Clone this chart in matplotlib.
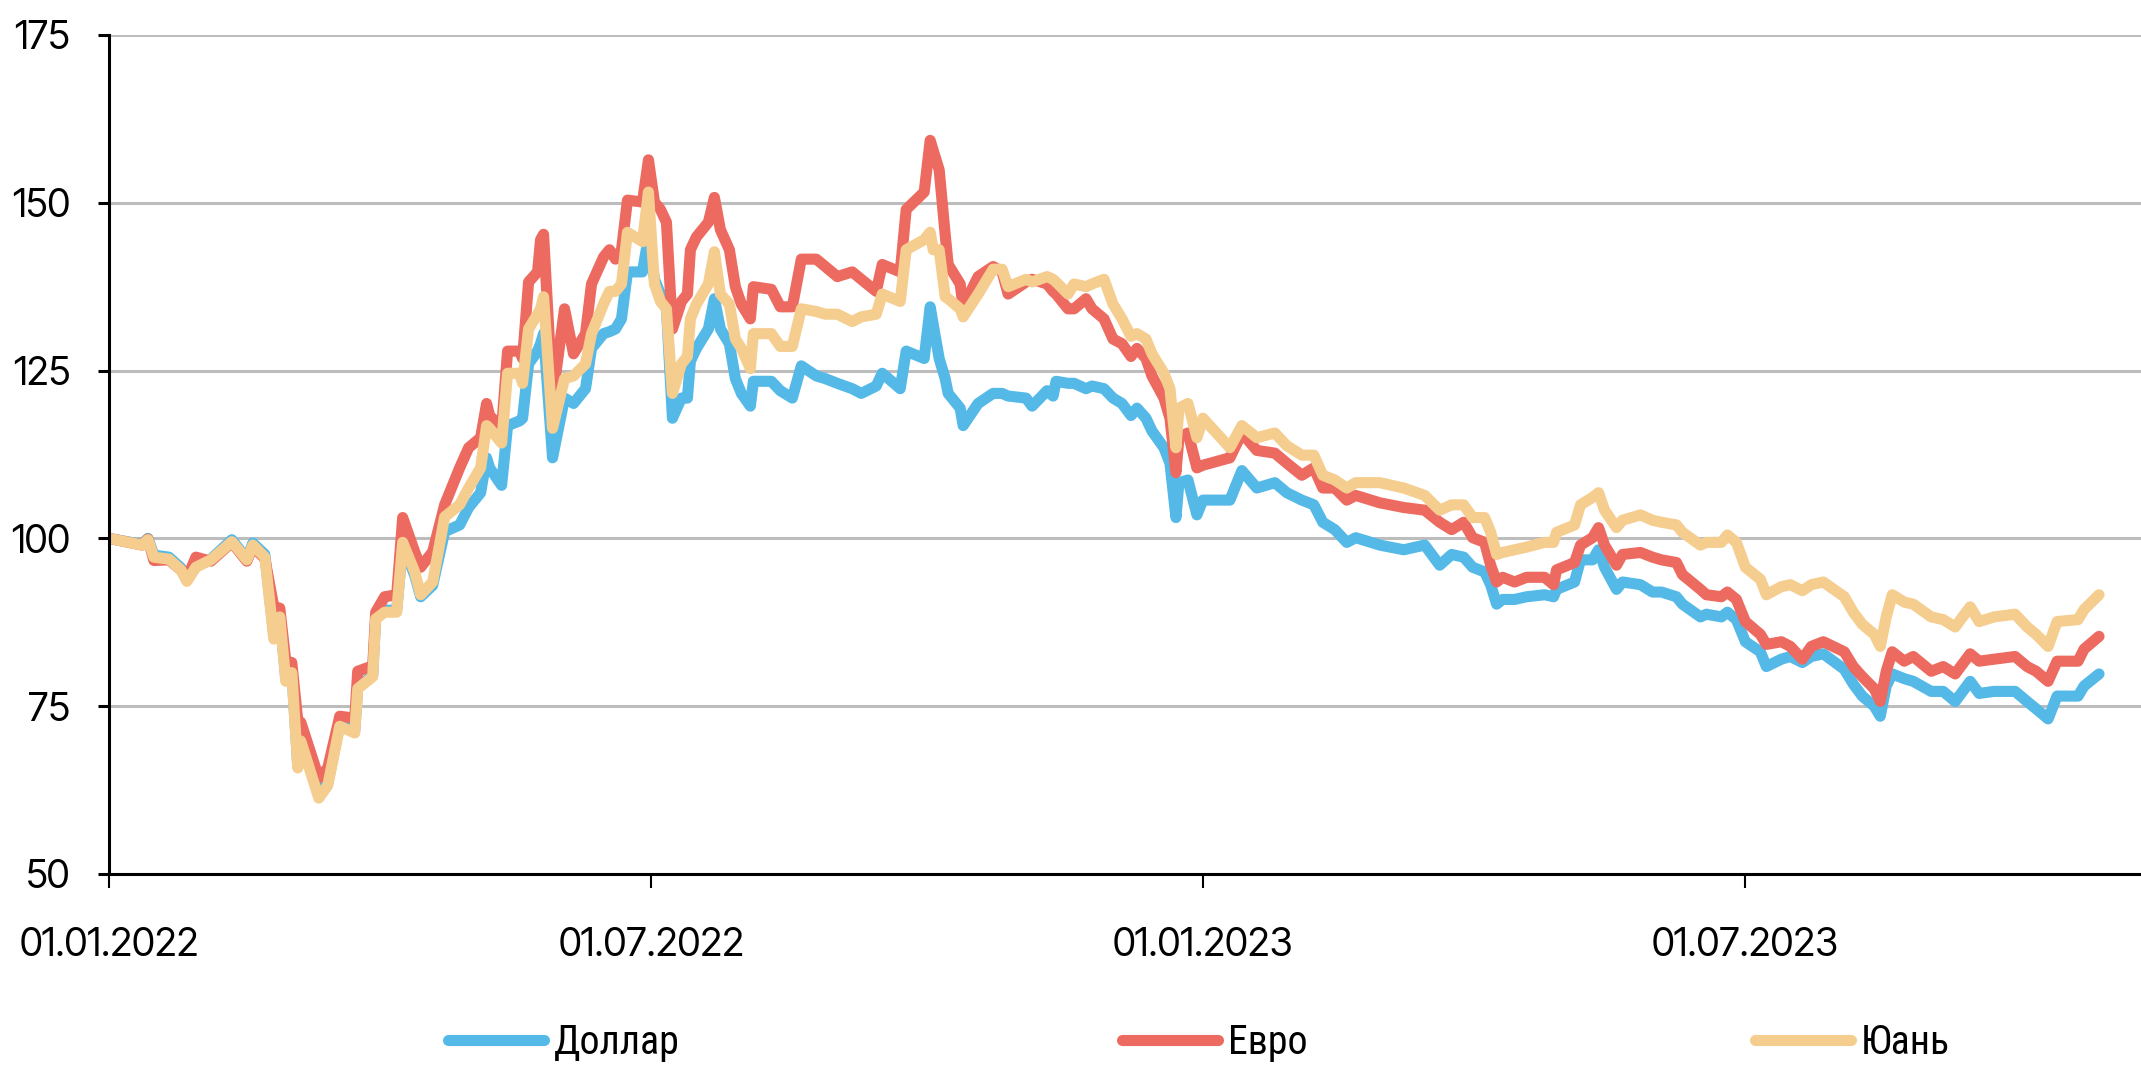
import matplotlib
matplotlib.use('Agg')
import matplotlib.pyplot as plt
import matplotlib.dates as mdates
from matplotlib import font_manager
from matplotlib.ft2font import FT2Font
from datetime import datetime, timedelta

# days since 01.01.2022 and index values (01.01.2022 = 100)
days = [0, 11, 13, 15, 20, 24, 26, 29, 34, 41, 46, 48, 52, 55, 57, 59, 61, 63, 64, 70,
        73, 77, 82, 83, 88, 89, 92, 96, 98, 102, 104, 108, 112, 117, 120, 124, 126, 127, 131, 133,
        137, 138, 140, 143, 144, 145, 148, 152, 155, 159, 161, 165, 167, 169, 171, 173, 178, 180, 182, 184,
        186, 188, 191, 193, 194, 196, 200, 202, 204, 207, 209, 211, 214, 215, 221, 224, 228, 231, 236, 239,
        243, 248, 251, 256, 258, 264, 266, 272, 274, 275, 277, 279, 280, 284, 285, 290, 295, 298, 300, 306,
        308, 313, 315, 316, 320, 322, 326, 328, 332, 335, 338, 341, 343, 346, 348, 352, 354, 356, 357, 360,
        363, 365, 374, 378, 383, 389, 393, 398, 402, 405, 409, 413, 416, 424, 432, 439, 444, 448, 452, 455,
        459, 461, 463, 465, 469, 473, 479, 482, 483, 489, 491, 495, 497, 499, 503, 505, 511, 515, 518, 523,
        525, 531, 533, 538, 540, 543, 546, 551, 553, 558, 561, 565, 568, 572, 579, 582, 585, 589, 591, 593,
        595, 599, 602, 608, 612, 616, 621, 624, 629, 636, 640, 643, 647, 650, 657, 659, 664]

usd = [100, 99.1, 100.0, 97.5, 97.2, 95.6, 93.8, 95.8, 96.9, 99.8, 96.9, 99.3, 97.6, 85.5, 88.5, 79.0, 80.2, 66.0, 70.0, 61.8,
       63.5, 72.3, 71.3, 77.8, 79.6, 88.2, 89.3, 89.3, 99.0, 94.5, 91.3, 93.0, 101.0, 102.0, 104.6, 106.8, 112.0, 110.5, 107.9, 116.8,
       117.5, 117.9, 126.0, 127.9, 129.0, 130.5, 112.0, 120.9, 120.1, 122.3, 128.3, 130.5, 130.8, 131.2, 132.7, 139.7, 139.7, 144.9, 138.6, 136.4,
       134.2, 117.9, 120.9, 120.9, 126.4, 128.3, 131.2, 135.7, 131.2, 129.0, 123.8, 121.6, 119.7, 123.4, 123.4, 122.0, 120.9, 125.7, 124.2, 123.8,
       123.1, 122.3, 121.6, 122.7, 124.6, 122.3, 127.9, 126.8, 134.5, 131.9, 126.8, 123.8, 121.6, 119.4, 116.8, 120.1, 121.6, 121.6, 121.2, 120.9,
       119.7, 122.0, 121.2, 123.4, 123.1, 123.1, 122.3, 122.7, 122.3, 120.9, 120.1, 118.3, 119.4, 117.9, 116.0, 113.5, 111.2, 103.1, 108.3, 108.7,
       103.5, 105.7, 105.7, 110.1, 107.5, 108.3, 106.8, 105.7, 105.0, 102.4, 101.3, 99.4, 100.1, 99.0, 98.3, 99.0, 96.0, 97.6, 97.2, 95.7,
       95.0, 93.1, 90.2, 90.9, 90.9, 91.3, 91.6, 91.3, 92.4, 93.5, 96.8, 96.8, 98.3, 95.7, 92.4, 93.5, 93.1, 92.0, 92.0, 91.3,
       90.2, 88.3, 88.7, 88.3, 89.0, 87.9, 84.6, 83.1, 80.9, 82.0, 82.4, 81.5, 82.4, 82.8, 80.5, 78.3, 76.5, 75.0, 73.5, 78.0,
       79.8, 79.1, 78.7, 77.2, 77.2, 75.7, 78.7, 76.9, 77.2, 77.2, 75.7, 74.6, 73.1, 76.5, 76.5, 78.0, 79.8]

eur = [100, 99.0, 99.9, 96.7, 96.8, 95.3, 94.0, 97.2, 96.6, 99.4, 96.6, 98.8, 97.0, 89.8, 89.6, 81.7, 81.5, 72.8, 72.6, 64.3,
       65.8, 73.5, 73.2, 80.2, 81.0, 89.0, 91.3, 91.6, 103.1, 98.0, 95.7, 98.0, 105.0, 110.5, 113.5, 115.0, 120.1, 118.3, 116.4, 127.9,
       127.9, 126.8, 138.2, 139.7, 144.5, 145.3, 120.9, 134.2, 127.5, 130.5, 137.9, 141.9, 143.0, 141.6, 143.0, 150.4, 150.1, 156.4, 150.1, 149.0,
       147.1, 131.2, 135.3, 136.4, 143.0, 144.9, 147.1, 150.8, 146.0, 143.0, 137.5, 134.9, 132.7, 137.5, 137.1, 134.5, 134.5, 141.6, 141.6, 140.5,
       139.0, 139.7, 138.6, 136.8, 140.8, 139.7, 149.0, 151.6, 159.3, 157.8, 154.9, 145.3, 140.8, 137.9, 134.5, 139.0, 140.5, 139.7, 136.4, 138.2,
       138.6, 137.9, 136.8, 136.4, 134.2, 134.2, 135.7, 134.2, 132.7, 129.7, 129.0, 127.1, 128.3, 126.8, 124.2, 120.9, 117.9, 109.8, 115.0, 115.7,
       110.5, 110.9, 112.0, 115.7, 113.1, 112.7, 111.2, 109.4, 110.5, 107.5, 107.5, 105.7, 106.4, 105.3, 104.6, 104.2, 102.4, 101.3, 102.4, 100.1,
       99.4, 96.0, 93.5, 94.2, 93.5, 94.2, 94.2, 93.1, 95.3, 96.4, 99.0, 100.1, 101.6, 99.0, 96.0, 97.6, 97.9, 97.2, 96.8, 96.4,
       94.6, 92.4, 91.6, 91.3, 92.0, 90.9, 87.6, 85.7, 84.2, 84.6, 83.9, 82.0, 83.9, 84.6, 83.1, 80.9, 79.4, 77.6, 75.7, 80.2,
       83.1, 81.7, 82.4, 80.2, 80.9, 79.8, 82.8, 81.7, 82.0, 82.4, 80.9, 80.2, 78.7, 81.7, 81.7, 83.5, 85.4]

cny = [100, 99.0, 99.8, 97.2, 96.9, 95.3, 93.6, 95.7, 96.8, 99.5, 96.8, 99.0, 97.2, 85.0, 88.3, 78.7, 80.0, 65.8, 69.8, 61.3,
       63.2, 72.0, 71.0, 77.6, 79.4, 88.0, 89.0, 89.0, 99.4, 95.0, 91.6, 93.5, 103.2, 105.0, 107.5, 110.5, 116.8, 116.4, 114.2, 124.6,
       124.6, 123.1, 131.2, 133.4, 134.2, 136.0, 116.4, 123.8, 124.2, 126.0, 130.5, 134.9, 136.8, 136.8, 137.9, 145.6, 144.2, 151.6, 137.9, 135.3,
       134.2, 121.6, 126.0, 127.1, 132.7, 134.9, 137.9, 142.7, 136.4, 134.9, 129.7, 128.3, 125.3, 130.5, 130.5, 128.6, 128.6, 134.2, 133.8, 133.4,
       133.4, 132.3, 133.0, 133.4, 136.4, 135.3, 143.0, 144.5, 145.6, 143.0, 143.0, 136.0, 135.7, 134.2, 133.0, 136.4, 140.1, 140.1, 137.5, 138.6,
       138.2, 139.0, 138.6, 138.2, 136.4, 137.9, 137.5, 137.9, 138.6, 134.9, 132.7, 130.1, 130.5, 129.7, 127.5, 124.6, 122.3, 113.5, 119.4, 120.1,
       115.0, 117.9, 113.5, 116.8, 115.0, 115.7, 113.8, 112.4, 112.4, 109.4, 108.7, 107.5, 108.3, 108.3, 107.5, 106.4, 104.2, 105.0, 105.0, 103.1,
       103.1, 100.9, 97.6, 97.9, 98.3, 98.7, 99.4, 99.4, 100.9, 102.0, 105.0, 106.1, 106.8, 104.2, 101.6, 102.7, 103.5, 102.7, 102.4, 102.0,
       100.9, 99.0, 99.4, 99.4, 100.5, 99.4, 95.7, 93.9, 91.6, 92.8, 93.1, 92.2, 93.1, 93.5, 91.3, 89.0, 87.2, 85.7, 83.9, 88.3,
       91.6, 90.5, 90.2, 88.3, 87.9, 86.8, 89.8, 87.6, 88.3, 88.7, 86.8, 85.7, 83.9, 87.6, 87.9, 89.4, 91.6]

labels = ['Доллар', 'Евро', 'Юань']
colors = ['#55B9E8', '#EC6A60', '#F5CD8F']
legend_x = [0.2092, 0.5242, 0.8195]  # left edge of each legend entry

start = datetime(2022, 1, 1)
dates = [start + timedelta(days=d) for d in days]


def text_size(path, s):
    # width and height in px of s at 36 pt, 100 dpi
    f = FT2Font(path)
    f.set_size(36, 100)
    f.set_text(s)
    w, h = f.get_width_height()
    return w / 64, h / 64


def has_cyrillic(path):
    try:
        return ord('Д') in FT2Font(path).get_charmap()
    except Exception:
        return False


# the original uses a tall narrow sans: take the narrowest plain sans face
plain = ('DejaVu Sans', 'Liberation Sans', 'Noto Sans', 'Roboto', 'Open Sans', 'Lato', 'Inter')
fonts = [f for f in font_manager.fontManager.ttflist
         if f.name.startswith(plain)
         and not any(k in f.name for k in ('Mono', 'Serif', 'CJK', 'Math', 'Symbol'))
         and f.weight in (400, 'normal', 'regular') and f.style == 'normal']


def pick(sample, need_cyr):
    best = None
    for f in fonts:
        if need_cyr and not has_cyrillic(f.fname):
            continue
        try:
            w, h = text_size(f.fname, sample)
        except Exception:
            continue
        r = w / max(h, 1)
        if best is None or r < best[0]:
            best = (r, f, w, h)
    return best


def fprops(entry, size):
    if entry is None:
        return font_manager.FontProperties(family='DejaVu Sans', size=size * 0.8)
    f = entry[1]
    return font_manager.FontProperties(family=[f.name, 'DejaVu Sans'],
                                       stretch=f.stretch, weight='normal', size=size)


tk = pick('01.01.2022', False)
lg = pick('Доллар', True)

# sizes chosen so label widths / heights land near the original's
tk_fs = min(36 * 180 / tk[2], 36 * 44 / tk[3]) if tk else 28
lg_fs = min(36 * 126 / lg[2], 36 * 54 / lg[3]) if lg else 28
tk_prop = fprops(tk, tk_fs)
lg_prop = fprops(lg, lg_fs)

fig = plt.figure(figsize=(21.41, 10.73), dpi=100)
ax = fig.add_axes([0.0509, 0.1855, 0.9491, 0.7819])

lines = []
for vals, lab, col in zip([usd, eur, cny], labels, colors):
    ln, = ax.plot(dates, vals, color=col, lw=8, label=lab,
                  solid_capstyle='round', solid_joinstyle='round')
    lines.append(ln)

ax.set_ylim(50, 175)
ax.set_yticks([50, 75, 100, 125, 150, 175])
ax.set_xlim(start, start + timedelta(days=678))
ax.set_xticks([datetime(2022, 1, 1), datetime(2022, 7, 1),
               datetime(2023, 1, 1), datetime(2023, 7, 1)])
ax.xaxis.set_major_formatter(mdates.DateFormatter('%d.%m.%Y'))

ax.grid(axis='y', color='#BDBDBD', lw=2.2)
ax.set_axisbelow(True)
for s in ['top', 'right']:
    ax.spines[s].set_visible(False)
for s in ['left', 'bottom']:
    ax.spines[s].set_linewidth(2.2)
    ax.spines[s].set_color('black')

ax.tick_params(axis='y', length=8, width=2.2, pad=20)
ax.tick_params(axis='x', length=10, width=1.5, pad=28)
for t in ax.get_xticklabels() + ax.get_yticklabels():
    t.set_fontproperties(tk_prop)

# one legend per series so each sits where the original has it
em = lg_prop.get_size_in_points() * 100 / 72
for ln, x in zip(lines, legend_x):
    fig.legend(handles=[ln], loc='center left', bbox_to_anchor=(x, 0.028),
               frameon=False, prop=lg_prop, borderpad=0, borderaxespad=0,
               handlelength=96 / em, handletextpad=10 / em)

fig.savefig('out.png', dpi=100)
